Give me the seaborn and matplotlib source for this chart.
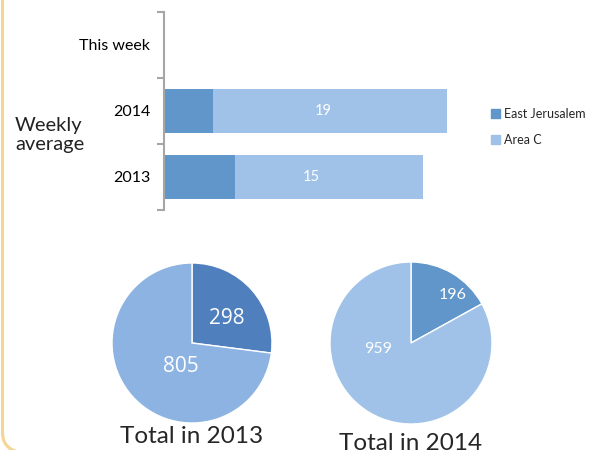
import matplotlib
matplotlib.use("Agg")
import matplotlib.pyplot as plt
from matplotlib.patches import FancyBboxPatch, Patch
import seaborn as sns
import pandas as pd

# weekly averages (stacked bars)
categories = ["This week", "2014", "2013"]
east_jerusalem = [0, 3.9, 5.7]
area_c = [0, 18.7, 15.0]

# yearly totals (pies)
totals_2013 = [298, 805]
totals_2014 = [196, 959]

c_ej = "#6096c9"
c_ac = "#a0c2e8"

sns.set_style("white")
plt.rcParams["font.family"] = ["Lato", "DejaVu Sans"]

fig = plt.figure(figsize=(5.91, 4.5), dpi=100)

# beige rounded frame, mostly off-canvas
frame = FancyBboxPatch((2.5 / 591, -3 / 450), 700 / 591, 500 / 450,
                       boxstyle="round,pad=0,rounding_size=0.045",
                       transform=fig.transFigure, fill=False,
                       edgecolor="#f5d592", linewidth=2.2)
fig.patches.append(frame)

# ---- stacked bar chart ----
df = pd.DataFrame({"cat": categories, "ej": east_jerusalem, "ac": area_c})
df["total"] = df["ej"] + df["ac"]

ax = fig.add_axes([164 / 591, 240 / 450, 312.5 / 591, 198 / 450])
sns.barplot(data=df, y="cat", x="total", order=categories, color=c_ac,
            saturation=1, width=0.68, orient="h", linewidth=0, ax=ax)
sns.barplot(data=df, y="cat", x="ej", order=categories, color=c_ej,
            saturation=1, width=0.68, orient="h", linewidth=0, ax=ax)

labels = ["" if v == 0 else f"{v:.0f}" for v in df["ac"]]
ax.bar_label(ax.containers[0], labels=labels, label_type="center",
             color="white", fontsize=10.5)
# move labels into the middle of the Area C part
for t, e, a in zip(ax.texts, east_jerusalem, area_c):
    t.set_x(e + a / 2)

ax.set_xlim(0, 25)
ax.set_ylim(2.5, -0.5)
ax.set_xlabel("")
ax.set_ylabel("")
ax.set_xticks([])
for s in ["top", "right", "bottom"]:
    ax.spines[s].set_visible(False)
ax.spines["left"].set_color("#a6a6a6")
ax.spines["left"].set_linewidth(1.5)
ax.tick_params(axis="y", which="major", length=0, pad=10, labelsize=11.5,
               labelcolor="black")
ax.set_yticks([-0.5, 0.5, 1.5, 2.5], minor=True)
ax.tick_params(axis="y", which="minor", left=True, length=5, width=1.5,
               color="#a6a6a6", direction="out")

fig.text(15 / 591, 1 - 135 / 450, "Weekly\naverage", fontsize=14.5,
         va="center", ha="left", linespacing=1.15, color="#222222")

handles = [Patch(color=c_ej, label="East Jerusalem"),
           Patch(color=c_ac, label="Area C")]
fig.legend(handles=handles, loc="center left",
           bbox_to_anchor=(491 / 591, 1 - 127 / 450), frameon=False,
           fontsize=9, handlelength=0.75, handleheight=0.75,
           handletextpad=0.3, labelspacing=1.1, borderaxespad=0,
           borderpad=0)

# ---- pies ----
def draw_pie(rect, values, colors, label_pos, fsize, family, title, title_y):
    pax = fig.add_axes(rect)
    wedges, texts = pax.pie(values, colors=colors, startangle=90,
                            counterclock=False, labels=[str(v) for v in values],
                            labeldistance=0.5,
                            textprops=dict(color="white", fontsize=fsize,
                                           family=family, ha="center",
                                           va="center"))
    for t, p in zip(texts, label_pos):
        t.set_position(p)
    pax.set_aspect("equal")
    pax.set_xlim(-1, 1)
    pax.set_ylim(-1, 1)
    pax.set_xlabel(title, fontsize=17.5, labelpad=0)
    pax.xaxis.set_label_coords(0.5, title_y)
    return pax

draw_pie([112 / 591, 27 / 450, 160 / 591, 160 / 450],
         totals_2013, ["#4f80bd", "#8db3e2"],
         [(0.44, 0.31), (-0.14, -0.30)], 15, ["Open Sans", "DejaVu Sans"],
         "Total in 2013", -0.02)

draw_pie([330 / 591, 26 / 450, 162 / 591, 162 / 450],
         totals_2014, [c_ej, c_ac],
         [(0.52, 0.59), (-0.41, -0.07)], 11.5, ["Lato", "DejaVu Sans"],
         "Total in 2014", -0.055)

fig.savefig("out.png", dpi=100)
